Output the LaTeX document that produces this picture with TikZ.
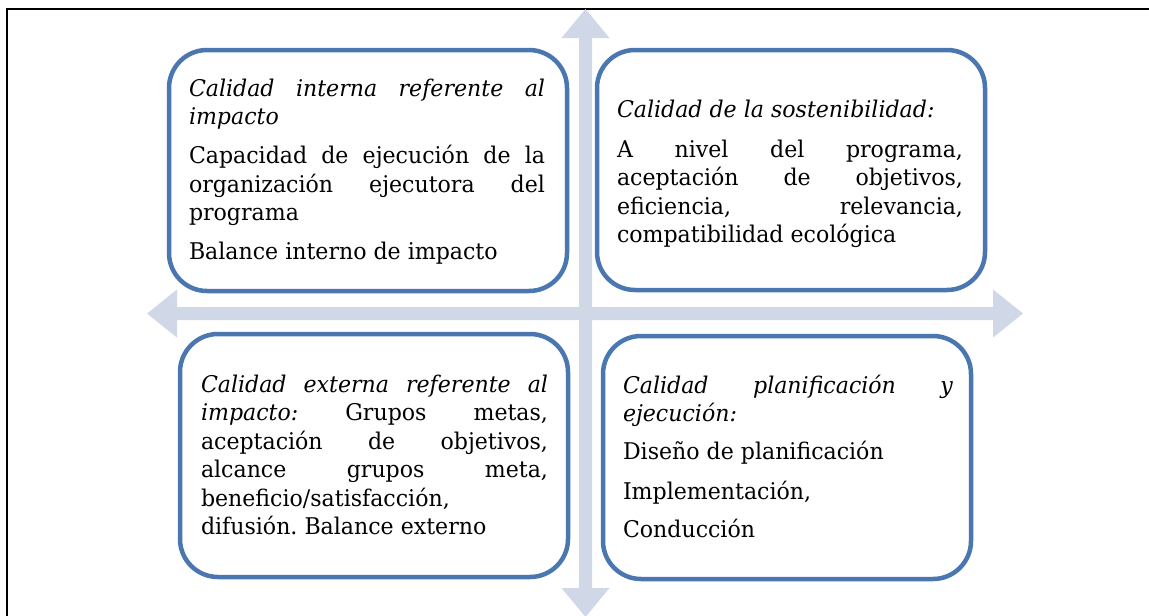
\documentclass[tikz,border=0pt]{standalone}
\usepackage{fontspec}
\setmainfont[FakeStretch=0.96]{DejaVu Serif}
\definecolor{boxblue}{RGB}{74,119,176}
\definecolor{arrowgray}{RGB}{208,216,232}
\tikzset{
  qbox/.style={draw=boxblue, line width=4.5pt, rounded corners=38pt, fill=white},
  arrowshape/.style={fill=arrowgray, draw=none},
  frameline/.style={draw=black, line width=1.5pt},
  qtext/.style={anchor=base west, inner sep=0pt, outer sep=0pt}
}
\newcommand{\jl}[1]{\makebox[\linewidth][s]{#1}}
\newcommand{\qfont}{\fontsize{23pt}{28.5pt}\selectfont\frenchspacing}
\begin{document}
\begin{tikzpicture}[x=1pt,y=-1pt]
\useasboundingbox (0,0) rectangle (1149,616);
% frame
\draw[frameline] (7,616) -- (7,9) -- (1149,9);
% cross arrows
\path[arrowshape] (585.5,9) -- (609.5,38) -- (592,38) -- (592,588) -- (609.5,588)
  -- (585.5,617) -- (561.5,588) -- (579,588) -- (579,38) -- (561.5,38) -- cycle;
\path[arrowshape] (147,313.5) -- (177,289.5) -- (177,307) -- (993,307) -- (993,289.5)
  -- (1023,313.5) -- (993,337.5) -- (993,320) -- (177,320) -- (177,337.5) -- cycle;
% boxes
\draw[qbox] (169,50) rectangle (567,291);
\draw[qbox] (597,50) rectangle (985,290);
\draw[qbox] (180,334) rectangle (568,577);
\draw[qbox] (603,336) rectangle (971,579);
% texts
\node[qtext] (tl) at (189,96) {\parbox[t]{356pt}{\qfont
  \jl{\itshape Calidad interna referente al}\\
  \textit{impacto}\\[10.5pt]
  \jl{Capacidad de ejecución de la}\\
  \jl{organización ejecutora del}\\
  programa\\[10pt]
  Balance interno de impacto}};
\node[qtext] (tr) at (617,117) {\parbox[t]{346pt}{\qfont
  \textit{Calidad de la sostenibilidad:}\\[11.5pt]
  \jl{A nivel del programa,}\\
  \jl{aceptación de objetivos,}\\
  \jl{eficiencia, relevancia,}\\
  compatibilidad ecológica}};
\node[qtext] (bl) at (201,392) {\parbox[t]{347pt}{\qfont
  \jl{\itshape Calidad externa referente al}\\
  \jl{\textit{impacto:} Grupos metas,}\\
  \jl{aceptación de objetivos,}\\
  \jl{alcance grupos meta,}\\
  beneficio/satisfacción,\\
  difusión. Balance externo}};
\node[qtext] (br) at (623,393) {\parbox[t]{330pt}{\qfont
  \jl{\itshape Calidad planificación y}\\
  \textit{ejecución:}\\[9.5pt]
  Diseño de planificación\\[11.5pt]
  Implementación,\\[9.5pt]
  Conducción}};
\end{tikzpicture}
\end{document}
